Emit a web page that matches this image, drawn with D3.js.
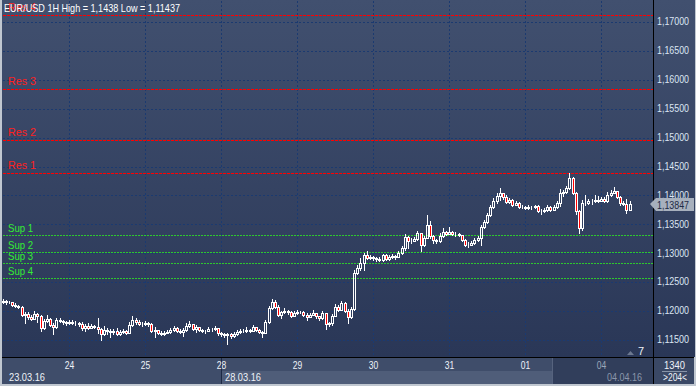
<!DOCTYPE html>
<html>
<head>
<meta charset="utf-8">
<script src="https://cdn.jsdelivr.net/npm/d3@7"></script>
<style>
body { margin: 0; background: #c0c7d0; }
svg { display: block; }
text { font-family: "Liberation Sans", Arial, sans-serif; }
</style>
</head>
<body>
<svg id="chart" width="696" height="386"></svg>
<script>
'use strict';

// hourly EUR/USD candles, 23.03.16 03:00 .. 04.04.16 09:00
var firstOpen = 1.1216;
var closes = [
    1.1217,1.1216,1.1216,1.1211,1.1209,1.1207,1.1193,1.1195,1.1190,1.1186,1.1195,1.1192,1.1171,1.1183,1.1186,1.1176,1.1172,1.1185,1.1183,1.1181,1.1179,
    1.1181,1.1179,1.1179,1.1178,1.1171,1.1174,1.1171,1.1174,1.1172,1.1169,1.1160,1.1167,1.1166,1.1164,1.1166,1.1160,1.1164,1.1166,1.1162,1.1176,1.1185,1.1181,1.1178,1.1178,
    1.1179,1.1178,1.1166,1.1167,1.1162,1.1160,1.1162,1.1164,1.1167,1.1171,1.1166,1.1164,1.1167,1.1174,1.1178,1.1169,1.1172,1.1167,1.1166,1.1166,1.1169,1.1169,1.1171,1.1162,
    1.1160,1.1159,1.1160,1.1157,1.1160,1.1164,1.1166,1.1166,1.1167,1.1166,1.1172,1.1167,1.1164,1.1162,1.1181,1.1205,1.1216,1.1207,1.1193,1.1198,1.1200,1.1198,1.1192,1.1197,
    1.1198,1.1198,1.1193,1.1190,1.1193,1.1197,1.1192,1.1188,1.1197,1.1178,1.1179,1.1192,1.1207,1.1202,1.1214,1.1200,1.1190,1.1204,1.1266,1.1275,1.1283,1.1297,1.1292,1.1294,
    1.1292,1.1290,1.1288,1.1297,1.1290,1.1294,1.1295,1.1294,1.1301,1.1309,1.1328,1.1321,1.1321,1.1325,1.1335,1.1314,1.1326,1.1349,1.1330,1.1323,1.1321,1.1330,1.1337,1.1333,
    1.1337,1.1333,1.1333,1.1332,1.1323,1.1314,1.1314,1.1318,1.1323,1.1326,1.1346,1.1354,1.1366,1.1380,1.1390,1.1399,1.1404,1.1397,1.1389,1.1392,1.1384,1.1387,1.1380,1.1380,
    1.1378,1.1380,1.1380,1.1382,1.1373,1.1373,1.1375,1.1380,1.1375,1.1380,1.1387,1.1404,1.1406,1.1413,1.1430,1.1404,1.1373,1.1344,1.1387,1.1387,1.1390,1.1390,1.1392,1.1390,
    1.1394,1.1390,1.1401,1.1404,1.1408,1.1397,1.1387,1.1385,1.1375,1.13847
];
var highs = [
    1.1221,1.1219,1.1217,1.1216,1.1214,1.1211,1.1209,1.1198,1.1198,1.1193,1.1200,1.1197,1.1193,1.1186,1.1193,1.1188,1.1179,1.1188,1.1188,1.1185,1.1183,
    1.1185,1.1185,1.1183,1.1181,1.1181,1.1178,1.1179,1.1178,1.1176,1.1188,1.1171,1.1174,1.1171,1.1169,1.1169,1.1171,1.1167,1.1169,1.1167,1.1181,1.1192,1.1188,1.1185,1.1181,
    1.1183,1.1181,1.1179,1.1172,1.1167,1.1166,1.1166,1.1167,1.1171,1.1174,1.1172,1.1169,1.1171,1.1179,1.1183,1.1178,1.1176,1.1172,1.1169,1.1167,1.1172,1.1171,1.1174,1.1171,
    1.1164,1.1162,1.1162,1.1162,1.1164,1.1167,1.1169,1.1169,1.1172,1.1169,1.1176,1.1172,1.1169,1.1166,1.1185,1.1209,1.1221,1.1219,1.1211,1.1200,1.1205,1.1202,1.1200,1.1200,
    1.1202,1.1200,1.1200,1.1197,1.1197,1.1202,1.1197,1.1192,1.1200,1.1197,1.1181,1.1195,1.1212,1.1211,1.1217,1.1216,1.1204,1.1207,1.1271,1.1280,1.1292,1.1301,1.1304,1.1297,
    1.1295,1.1294,1.1294,1.1299,1.1299,1.1297,1.1299,1.1297,1.1304,1.1313,1.1333,1.1330,1.1326,1.1328,1.1339,1.1335,1.1330,1.1366,1.1356,1.1332,1.1325,1.1335,1.1344,1.1339,
    1.1346,1.1339,1.1337,1.1335,1.1332,1.1325,1.1320,1.1321,1.1326,1.1330,1.1349,1.1358,1.1370,1.1384,1.1396,1.1404,1.1413,1.1404,1.1401,1.1396,1.1394,1.1390,1.1389,1.1384,
    1.1382,1.1384,1.1382,1.1384,1.1384,1.1377,1.1378,1.1384,1.1382,1.1384,1.1390,1.1411,1.1409,1.1416,1.1438,1.1432,1.1406,1.1375,1.1392,1.1401,1.1394,1.1394,1.1401,1.1399,
    1.1397,1.1397,1.1406,1.1409,1.1415,1.1408,1.1399,1.1390,1.1394,1.1390
];
var lows = [
    1.1214,1.1212,1.1214,1.1209,1.1207,1.1205,1.1192,1.1179,1.1186,1.1185,1.1186,1.1181,1.1166,1.1169,1.1181,1.1174,1.1160,1.1171,1.1181,1.1178,1.1176,
    1.1178,1.1178,1.1176,1.1174,1.1167,1.1166,1.1169,1.1171,1.1171,1.1162,1.1150,1.1159,1.1160,1.1155,1.1160,1.1159,1.1159,1.1162,1.1160,1.1162,1.1174,1.1178,1.1176,1.1174,
    1.1176,1.1174,1.1164,1.1155,1.1160,1.1159,1.1159,1.1162,1.1162,1.1166,1.1164,1.1162,1.1157,1.1166,1.1172,1.1167,1.1164,1.1166,1.1164,1.1162,1.1166,1.1166,1.1167,1.1159,
    1.1157,1.1155,1.11437,1.1153,1.1155,1.1159,1.1162,1.1164,1.1164,1.1164,1.1166,1.1166,1.1162,1.1155,1.1166,1.1179,1.1204,1.1205,1.1192,1.1188,1.1197,1.1195,1.1190,1.1193,
    1.1195,1.1197,1.1192,1.1185,1.1192,1.1193,1.1188,1.1185,1.1186,1.1169,1.1174,1.1176,1.1192,1.1200,1.1202,1.1198,1.1179,1.1188,1.1202,1.1264,1.1271,1.1271,1.1290,1.1290,
    1.1288,1.1287,1.1287,1.1287,1.1288,1.1289,1.1292,1.1290,1.1294,1.1299,1.1306,1.1309,1.1318,1.1321,1.1323,1.1304,1.1313,1.1326,1.1326,1.1318,1.1318,1.1320,1.1328,1.1332,
    1.1333,1.1332,1.1330,1.1330,1.1321,1.1313,1.1311,1.1314,1.1316,1.1321,1.1314,1.1344,1.1352,1.1365,1.1378,1.1387,1.1392,1.1394,1.1387,1.1387,1.1382,1.1384,1.1378,1.1378,
    1.1377,1.1377,1.1377,1.1378,1.1371,1.1368,1.1371,1.1373,1.1373,1.1374,1.1378,1.1382,1.1399,1.1404,1.1411,1.1403,1.1368,1.1335,1.1340,1.1384,1.1385,1.1385,1.1389,1.1389,
    1.1390,1.1389,1.1389,1.1399,1.1404,1.1396,1.1384,1.1384,1.1370,1.1375
];

// day starts (candle index) and their labels
var dayIndex = [21, 45, 69, 93, 117, 141, 165, 189];
var dayLabels = ['24', '25', '28', '29', '30', '31', '01', '04'];
var weekLabels = ['23.03.16', '28.03.16', '04.04.16'];

var priceTicks = [1.115, 1.12, 1.125, 1.13, 1.135, 1.14, 1.145, 1.15, 1.155, 1.16, 1.165, 1.17];

var levelNames = ['Res 4', 'Res 3', 'Res 2', 'Res 1', 'Sup 1', 'Sup 2', 'Sup 3', 'Sup 4'];
var levelValues = [1.17121, 1.1584, 1.1496, 1.1438, 1.1332, 1.1303, 1.1283, 1.1258];

var title = 'EUR/USD 1H High = 1,1438 Low = 1,11437';
var lastPrice = 1.13847;

var W = 696, H = 386;
var plot = { left: 3, right: 653, top: 1, bottom: 357 };

var svg = d3.select('#chart');

var grad = svg.append('defs').append('linearGradient')
    .attr('id', 'bg').attr('x1', 0).attr('y1', 0).attr('x2', 0).attr('y2', 1);
grad.append('stop').attr('offset', '0%').attr('stop-color', '#41506f');
grad.append('stop').attr('offset', '100%').attr('stop-color', '#2a3757');

svg.append('rect').attr('width', W).attr('height', H).attr('fill', '#c0c7d0');
svg.append('rect').attr('x', 2).attr('y', 0).attr('width', W - 3).attr('height', plot.bottom)
    .attr('fill', 'url(#bg)');

var x = d3.scaleLinear().domain([0, 205]).range([2.5, 651.7]);
var y = d3.scaleLinear().domain([1.11206, 1.17346]).range([plot.bottom, 2]);

function comma(v) { return d3.format('.5f')(v).replace('.', ','); }

// squeeze a text to the narrow width the terminal font uses
function narrow(sel, w) {
    sel.attr('textLength', w).attr('lengthAdjust', 'spacingAndGlyphs');
}

// grid
var grid = svg.append('g').attr('stroke', '#1b3a70').attr('stroke-dasharray', '2,2');
grid.selectAll('.h').data(priceTicks).enter().append('line')
    .attr('x1', plot.left).attr('x2', plot.right)
    .attr('y1', function(d) { return Math.round(y(d)) + 0.5; })
    .attr('y2', function(d) { return Math.round(y(d)) + 0.5; });
grid.selectAll('.v').data(dayIndex).enter().append('line')
    .attr('y1', plot.top).attr('y2', plot.bottom)
    .attr('x1', function(d) { return Math.round(x(d)) + 0.5; })
    .attr('x2', function(d) { return Math.round(x(d)) + 0.5; });

// support / resistance levels
var levels = svg.append('g');
levelNames.forEach(function(name, i) {
    var isRes = name.indexOf('Res') === 0;
    var ly = Math.round(y(levelValues[i])) + 0.5;
    levels.append('line')
        .attr('x1', plot.left).attr('x2', plot.right).attr('y1', ly).attr('y2', ly)
        .attr('stroke', isRes ? '#ff0000' : '#2ec82e')
        .attr('stroke-dasharray', isRes ? '3,1' : '2,1');
    levels.append('text')
        .attr('x', 8).attr('y', ly - (isRes ? 5 : 4))
        .attr('font-size', 11)
        .attr('fill', isRes ? '#ff2020' : '#33ee33')
        .text(name)
        .call(narrow, isRes ? 28 : 25);
});

// candles
var candles = closes.map(function(c, i) {
    var o = i === 0 ? firstOpen : closes[i - 1];
    return { i: i, o: o, c: c, h: Math.max(highs[i], o, c), l: Math.min(lows[i], o, c) };
});

var cg = svg.append('g');
candles.forEach(function(d) {
    var px = Math.round(x(d.i));
    var top = Math.round(y(Math.max(d.o, d.c)));
    var bot = Math.round(y(Math.min(d.o, d.c)));
    var hy = Math.round(y(d.h));
    var ly = Math.round(y(d.l));
    var down = d.c < d.o;
    if (hy < top) {
        cg.append('line').attr('x1', px + 0.5).attr('x2', px + 0.5)
            .attr('y1', hy).attr('y2', top).attr('stroke', '#fff');
    }
    if (ly > bot) {
        cg.append('line').attr('x1', px + 0.5).attr('x2', px + 0.5)
            .attr('y1', bot).attr('y2', ly + 1).attr('stroke', '#fff');
    }
    cg.append('rect')
        .attr('x', px - 0.5).attr('y', top + 0.5)
        .attr('width', 2).attr('height', Math.max(0, bot - top))
        .attr('fill', down ? '#ff0000' : 'none')
        .attr('stroke', '#fff');
});

// frame lines
svg.append('line').attr('x1', plot.right + 0.5).attr('x2', plot.right + 0.5)
    .attr('y1', 0).attr('y2', 384).attr('stroke', '#000');

// bottom strip
var weekX = Math.round(x(dayIndex[2]));
var strip = svg.append('g');
strip.append('rect').attr('x', 2).attr('y', plot.bottom).attr('width', plot.right - 2).attr('height', 27)
    .attr('fill', '#3f4d6a');
strip.append('rect').attr('x', weekX).attr('y', 371)
    .attr('width', 552 - weekX).attr('height', 13).attr('fill', '#4f5d79');
strip.append('rect').attr('x', 552).attr('y', plot.bottom).attr('width', plot.right - 552).attr('height', 27)
    .attr('fill', '#313e5b');
strip.append('line').attr('x1', 552.5).attr('x2', 552.5).attr('y1', plot.bottom).attr('y2', 384)
    .attr('stroke', '#56637e');
strip.append('line').attr('x1', weekX + 0.5).attr('x2', weekX + 0.5)
    .attr('y1', plot.bottom).attr('y2', 384).attr('stroke', '#1c2944');
strip.append('rect').attr('x', plot.right + 1).attr('y', plot.bottom).attr('width', W - plot.right - 3)
    .attr('height', 27).attr('fill', '#3a4865');

svg.append('line').attr('x1', 2).attr('x2', W - 2).attr('y1', plot.bottom + 0.5).attr('y2', plot.bottom + 0.5)
    .attr('stroke', '#000');

// x axis (days)
var xAxis = d3.axisBottom(x).tickValues(dayIndex)
    .tickFormat(function(d, i) { return dayLabels[i]; })
    .tickSize(0).tickPadding(3);
var xg = svg.append('g').attr('transform', 'translate(0,' + (plot.bottom + 1) + ')').call(xAxis);
xg.select('.domain').remove();
xg.selectAll('text').attr('font-size', 11)
    .attr('font-family', '"Liberation Sans", Arial, sans-serif')
    .attr('fill', function(d, i) { return i === dayIndex.length - 1 ? '#9aa6ba' : '#eef2f8'; })
    .call(narrow, 9.5);

strip.append('text').attr('x', 9).attr('y', 381).attr('font-size', 11).attr('fill', '#eef2f8')
    .text(weekLabels[0]).call(narrow, 36);
strip.append('text').attr('x', weekX + 4).attr('y', 381).attr('font-size', 11)
    .attr('fill', '#eef2f8').text(weekLabels[1]).call(narrow, 36);
strip.append('text').attr('x', 607).attr('y', 381).attr('font-size', 11)
    .attr('fill', '#8a96aa').text(weekLabels[2]).call(narrow, 35);

// y axis (prices)
var yAxis = d3.axisRight(y).tickValues(priceTicks).tickFormat(comma).tickSize(0).tickPadding(4);
var yg = svg.append('g').attr('transform', 'translate(' + plot.right + ',0)').call(yAxis);
yg.select('.domain').remove();
yg.selectAll('text').attr('font-size', 10)
    .attr('font-family', '"Liberation Sans", Arial, sans-serif')
    .attr('fill', '#dbe5f3')
    .attr('dy', '0.28em')
    .call(narrow, 32);

// last price marker
var lp = Math.round(y(lastPrice));
svg.append('path')
    .attr('d', 'M650,' + lp + 'L656,' + (lp - 6) + 'H694V' + (lp + 7) + 'H656Z')
    .attr('fill', '#a7b0bd');
svg.append('text').attr('x', 657).attr('y', lp + 5).attr('font-size', 10).attr('fill', '#1e2a44')
    .text(comma(lastPrice)).call(narrow, 32);

// corner box
svg.append('text').attr('x', 664).attr('y', 369).attr('font-size', 11)
    .attr('fill', '#eef2f8').text('1340').call(narrow, 21);
svg.append('line').attr('x1', 662).attr('x2', 687).attr('y1', 371.5).attr('y2', 371.5).attr('stroke', '#8894a8');
svg.append('text').attr('x', 663).attr('y', 381).attr('font-size', 11)
    .attr('fill', '#eef2f8').text('>204<').call(narrow, 24);

// scroll marker
svg.append('path').attr('d', 'M627,355L630.5,351L634,355Z').attr('fill', '#6c7890');
svg.append('text').attr('x', 638).attr('y', 355).attr('font-size', 11).attr('fill', '#eef2f8').text('7');

// title
svg.append('text').attr('x', 4).attr('y', 12).attr('font-size', 11).attr('fill', '#ffffff')
    .text(title).call(narrow, 176);
</script>
</body>
</html>
